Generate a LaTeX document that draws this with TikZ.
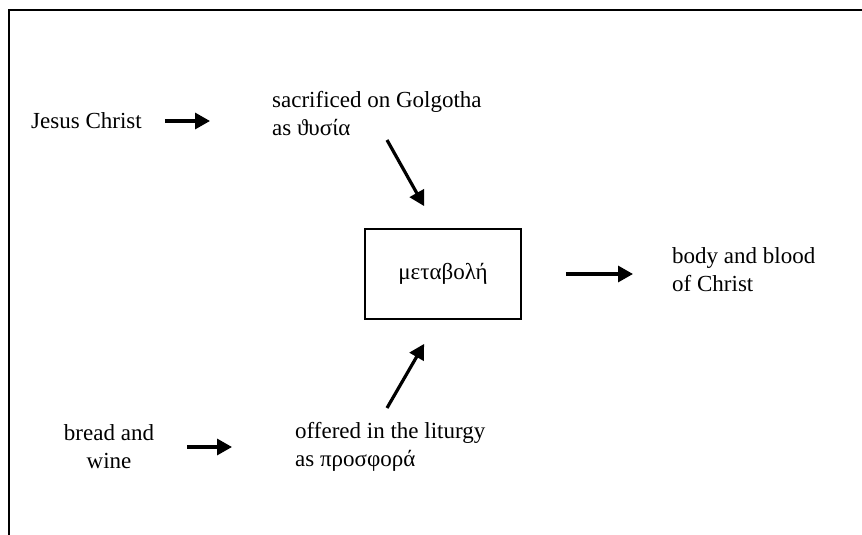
\documentclass[tikz,border=0pt]{standalone}
\usepackage{fontspec}
\setmainfont{Liberation Serif}
\usetikzlibrary{arrows.meta,calc}

\tikzset{
  txt/.style={inner sep=0pt, font=\fontsize{23}{28}\selectfont},
  arr/.style={line width=3.2pt, -{Triangle[length=15pt,width=16pt]}},
}

\begin{document}
\begin{tikzpicture}[x=1pt,y=-1pt]
  \useasboundingbox (0,0) rectangle (862,535);
  % frame, only top and left side show
  \draw[line width=2.2pt] (9,535) -- (9,10) -- (862,10);

  \node (jc)   at (31,121)  [txt,anchor=west]            {Jesus Christ};
  \node (sacr) at (272,114) [txt,anchor=west,align=left] {sacrificed on Golgotha\\as ϑυσία};
  \node (meta) at (443,274) [txt,draw,line width=1.8pt,minimum width=156pt,minimum height=90pt] {μεταβολή};
  \node (body) at (672,270) [txt,anchor=west,align=left] {body and blood\\of Christ};
  \node (bw)   at (109,447) [txt,align=center]           {bread and\\wine};
  \node (off)  at (295,447) [txt,anchor=west,align=left] {offered in the liturgy\\as προσφορά};

  \coordinate (s1) at (387,140);
  \coordinate (s2) at ($(meta.north west)+(60,-22)$);
  \coordinate (o1) at (387,408);
  \coordinate (o2) at ($(meta.south west)+(60,24)$);

  \draw[arr, shorten <=23pt, shorten >=62pt] (jc.east) -- (jc.east -| sacr.west);
  \draw[arr] (s1) -- (s2);
  \draw[arr] (o1) -- (o2);
  \draw[arr, shorten <=44pt, shorten >=39pt] (meta.east) -- (meta.east -| body.west);
  \draw[arr, shorten <=33pt, shorten >=63pt] (bw.east) -- (bw.east -| off.west);
\end{tikzpicture}
\end{document}
